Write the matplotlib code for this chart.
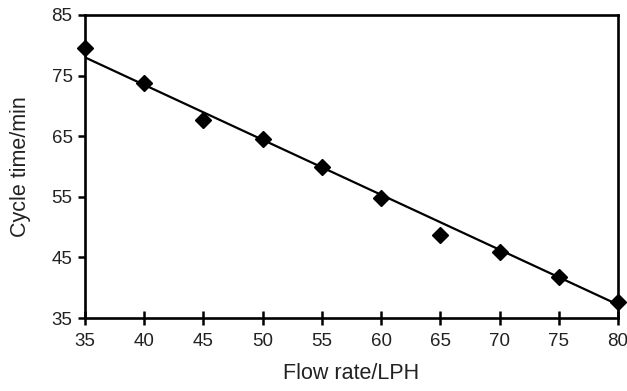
import matplotlib.pyplot as plt

plt.rcParams['font.family'] = ['Liberation Sans', 'DejaVu Sans']

# data
flow_rate = [35, 40, 45, 50, 55, 60, 65, 70, 75, 80]
cycle_time = [79.6, 73.8, 67.7, 64.6, 59.9, 54.8, 48.7, 45.9, 41.7, 37.7]
# linear trend line as drawn in the source chart
trend_x = [35, 80]
trend_y = [78.0, 37.2]
x_ticks = [35, 40, 45, 50, 55, 60, 65, 70, 75, 80]
y_ticks = [35, 45, 55, 65, 75, 85]

fig = plt.figure(figsize=(6.27, 3.91), dpi=100)
ax = fig.add_axes([0.1356, 0.1867, 0.85, 0.775])

ax.plot(trend_x, trend_y, color='black', lw=1.6, zorder=2)
ax.plot(flow_rate, cycle_time, linestyle='none', marker='D', markersize=8,
        color='black', clip_on=False, zorder=3)

ax.set_xlim(35, 80)
ax.set_ylim(35, 85)
ax.set_xticks(x_ticks)
ax.set_yticks(y_ticks)
ax.tick_params(axis='x', direction='inout', length=10, width=1.8, labelsize=13.5,
               pad=6, labelcolor='#222222')
ax.tick_params(axis='y', direction='out', length=5, width=1.8, labelsize=13.5,
               pad=4, labelcolor='#222222')
for sp in ax.spines.values():
    sp.set_linewidth(1.9)

ax.set_xlabel('Flow rate/LPH', fontsize=15.5, labelpad=9, color='#222222')
ax.set_ylabel('Cycle time/min', fontsize=15.5, labelpad=15, color='#222222')

fig.savefig('out.png', dpi=100)
